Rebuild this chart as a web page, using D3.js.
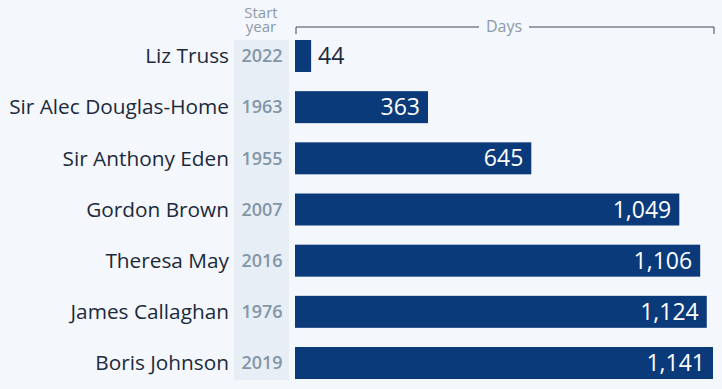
<!DOCTYPE html>
<html>
<head>
<meta charset="utf-8">
<script src="https://cdn.jsdelivr.net/npm/d3@7"></script>
<style>
  body { margin: 0; background: #f4f7fb; }
  svg { display: block; font-family: "Open Sans", "Noto Sans", sans-serif; }
</style>
</head>
<body>
<div class="canvas"></div>
<script>
const names = ["Liz Truss", "Sir Alec Douglas-Home", "Sir Anthony Eden", "Gordon Brown", "Theresa May", "James Callaghan", "Boris Johnson"];
const years = [2022, 1963, 1955, 2007, 2016, 1976, 2019];
const days = [44, 363, 645, 1049, 1106, 1124, 1141];

const dims = { width: 722, height: 389 };
const plot = { left: 295, right: 713, top: 40, bottom: 379 };

const svg = d3
  .select(".canvas")
  .append("svg")
  .attr("width", dims.width)
  .attr("height", dims.height);

const x = d3.scaleLinear().domain([0, 1141]).range([plot.left, plot.right]);
const y = d3
  .scaleBand()
  .domain(names)
  .range([plot.top, plot.bottom])
  .paddingInner(0.375)
  .paddingOuter(0);

// year column background
svg
  .append("rect")
  .attr("x", 234)
  .attr("y", plot.top)
  .attr("width", 55)
  .attr("height", plot.bottom - plot.top + 1)
  .attr("fill", "#e8eef6");

// header, one text per line
svg
  .selectAll("text.head")
  .data(["Start", "year"])
  .enter()
  .append("text")
  .attr("class", "head")
  .attr("x", 261)
  .attr("y", (d, i) => 18 + i * 14)
  .attr("text-anchor", "middle")
  .attr("fill", "#8a9aaa")
  .attr("font-size", 15)
  .text((d) => d);

// days bracket
const axisY = 27;
const mid = (plot.left + plot.right) / 2;
svg
  .append("path")
  .attr("d", `M${plot.left + 1},${axisY + 7}V${axisY}H${mid - 25}M${mid + 25},${axisY}H${plot.right + 1}V${axisY + 7}`)
  .attr("fill", "none")
  .attr("stroke", "#3c4a5a")
  .attr("stroke-width", 1);
svg
  .append("text")
  .attr("x", mid)
  .attr("y", axisY + 5)
  .attr("text-anchor", "middle")
  .attr("fill", "#8a9aaa")
  .attr("font-size", 16)
  .text("Days");

const rows = svg
  .selectAll("g.row")
  .data(names)
  .enter()
  .append("g")
  .attr("class", "row")
  .attr("transform", (d) => `translate(0, ${y(d)})`);

rows
  .append("rect")
  .attr("x", plot.left)
  .attr("width", (d, i) => x(days[i]) - plot.left)
  .attr("height", y.bandwidth())
  .attr("fill", "#0b3a7b");

rows
  .append("text")
  .attr("x", 229)
  .attr("y", y.bandwidth() / 2)
  .attr("dy", "0.35em")
  .attr("text-anchor", "end")
  .attr("fill", "#1b2a3c")
  .attr("font-size", 20.8)
  .text((d) => d);

rows
  .append("text")
  .attr("x", 262)
  .attr("y", y.bandwidth() / 2)
  .attr("dy", "0.35em")
  .attr("text-anchor", "middle")
  .attr("fill", "#8396a8")
  .attr("font-size", 18)
  .attr("font-weight", 600)
  .text((d, i) => years[i]);

const fmt = d3.format(",");
rows
  .append("text")
  .attr("x", (d, i) => (days[i] < 200 ? x(days[i]) + 7 : x(days[i]) - 8))
  .attr("y", y.bandwidth() / 2)
  .attr("dy", "0.35em")
  .attr("text-anchor", (d, i) => (days[i] < 200 ? "start" : "end"))
  .attr("fill", (d, i) => (days[i] < 200 ? "#1b2a3c" : "#ffffff"))
  .attr("font-size", 23)
  .text((d, i) => fmt(days[i]));
</script>
</body>
</html>
